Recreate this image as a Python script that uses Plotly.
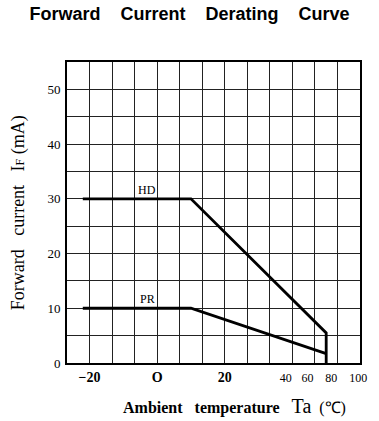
import plotly.graph_objects as go

# Data (x in chart axis units, y in mA)
hd_x = [-22, 10, 50, 50]
hd_y = [30, 30, 5.5, 0]
pr_x = [-22, 10, 50]
pr_y = [10, 10, 1.7]

x_tick_vals = [-20, 0, 20, 38, 44.5, 51.5, 59.5]
x_tick_text = ["\u221220", "O", "20", "40", "60", "80", "100"]
y_tick_vals = [0, 10, 20, 30, 40, 50]
y_tick_text = ["0", "10", "20", "30", "40", "50"]

W, H = 379, 421
L, R, T, B = 67, 17, 62, 58
pw, ph = W - L - R, H - T - B


def px_x(p):
    return (p - L) / pw


def px_y(p):
    return (H - B - p) / ph


fig = go.Figure()
fig.add_trace(go.Scatter(x=hd_x, y=hd_y, mode="lines",
                         line=dict(color="black", width=2.8), showlegend=False))
fig.add_trace(go.Scatter(x=pr_x, y=pr_y, mode="lines",
                         line=dict(color="black", width=2.8), showlegend=False))

serif = "Liberation Serif"

tick_labels = []
for i, t in enumerate(x_tick_text):
    if i < 3:
        tick_labels.append("<b><span style='font-size:14px'>%s</span></b>" % t)
    else:
        tick_labels.append("<span style='font-size:12px'>%s</span>" % t)

sp = "&nbsp;&nbsp;&nbsp;&nbsp;"
fig.update_layout(
    width=W, height=H,
    margin=dict(l=L, r=R, t=T, b=B),
    paper_bgcolor="white", plot_bgcolor="white",
    title=dict(text="Forward" + sp + "Current" + sp + "Derating" + sp + "Curve",
               x=0.5, xanchor="center", y=0.967, yanchor="middle",
               font=dict(family="Liberation Sans", size=18, color="black", weight="bold")),
    xaxis=dict(range=[-26.67, 60], tickmode="array", tickvals=x_tick_vals, ticktext=tick_labels,
               showgrid=False, zeroline=False, ticks="", ticklabelstandoff=1,
               tickfont=dict(family=serif, size=13, color="black"),
               showline=True, linecolor="black", linewidth=2, mirror=True,
               minor=dict(tick0=-20, dtick=20/3, showgrid=True, gridcolor="#222", gridwidth=1)),
    yaxis=dict(range=[0, 55], tickmode="array", tickvals=y_tick_vals, ticktext=y_tick_text,
               showgrid=False, zeroline=False, ticks="", ticklabelstandoff=2,
               tickfont=dict(family=serif, size=13, color="black"),
               showline=True, linecolor="black", linewidth=2, mirror=True,
               minor=dict(tick0=0, dtick=5, showgrid=True, gridcolor="#222", gridwidth=1)),
)

fig.add_annotation(text="HD", x=-3, y=30, xref="x", yref="y", yanchor="bottom", showarrow=False,
                   font=dict(family=serif, size=12, color="black"))
fig.add_annotation(text="PR", x=-3, y=10, xref="x", yref="y", yanchor="bottom", showarrow=False,
                   font=dict(family=serif, size=12, color="black"))
fig.add_annotation(text="Forward&nbsp;&nbsp;&nbsp;current&nbsp;&nbsp;&nbsp;I<span style='font-size:12px'>F</span>&nbsp;(mA)",
                   x=px_x(18), y=px_y(213), xref="paper", yref="paper", showarrow=False,
                   textangle=-90, xanchor="center", yanchor="middle",
                   font=dict(family=serif, size=18, color="black"))
fig.add_annotation(text="<b>Ambient</b>&nbsp;&nbsp;&nbsp;<b>temperature</b>&nbsp;&nbsp;&nbsp;<span style='font-size:20px'>Ta</span>&nbsp;&nbsp;(\u2103)",
                   x=px_x(236), y=px_y(406), xref="paper", yref="paper", showarrow=False,
                   xanchor="center", yanchor="middle",
                   font=dict(family=serif, size=16, color="black"))

fig.write_html("out.html")
